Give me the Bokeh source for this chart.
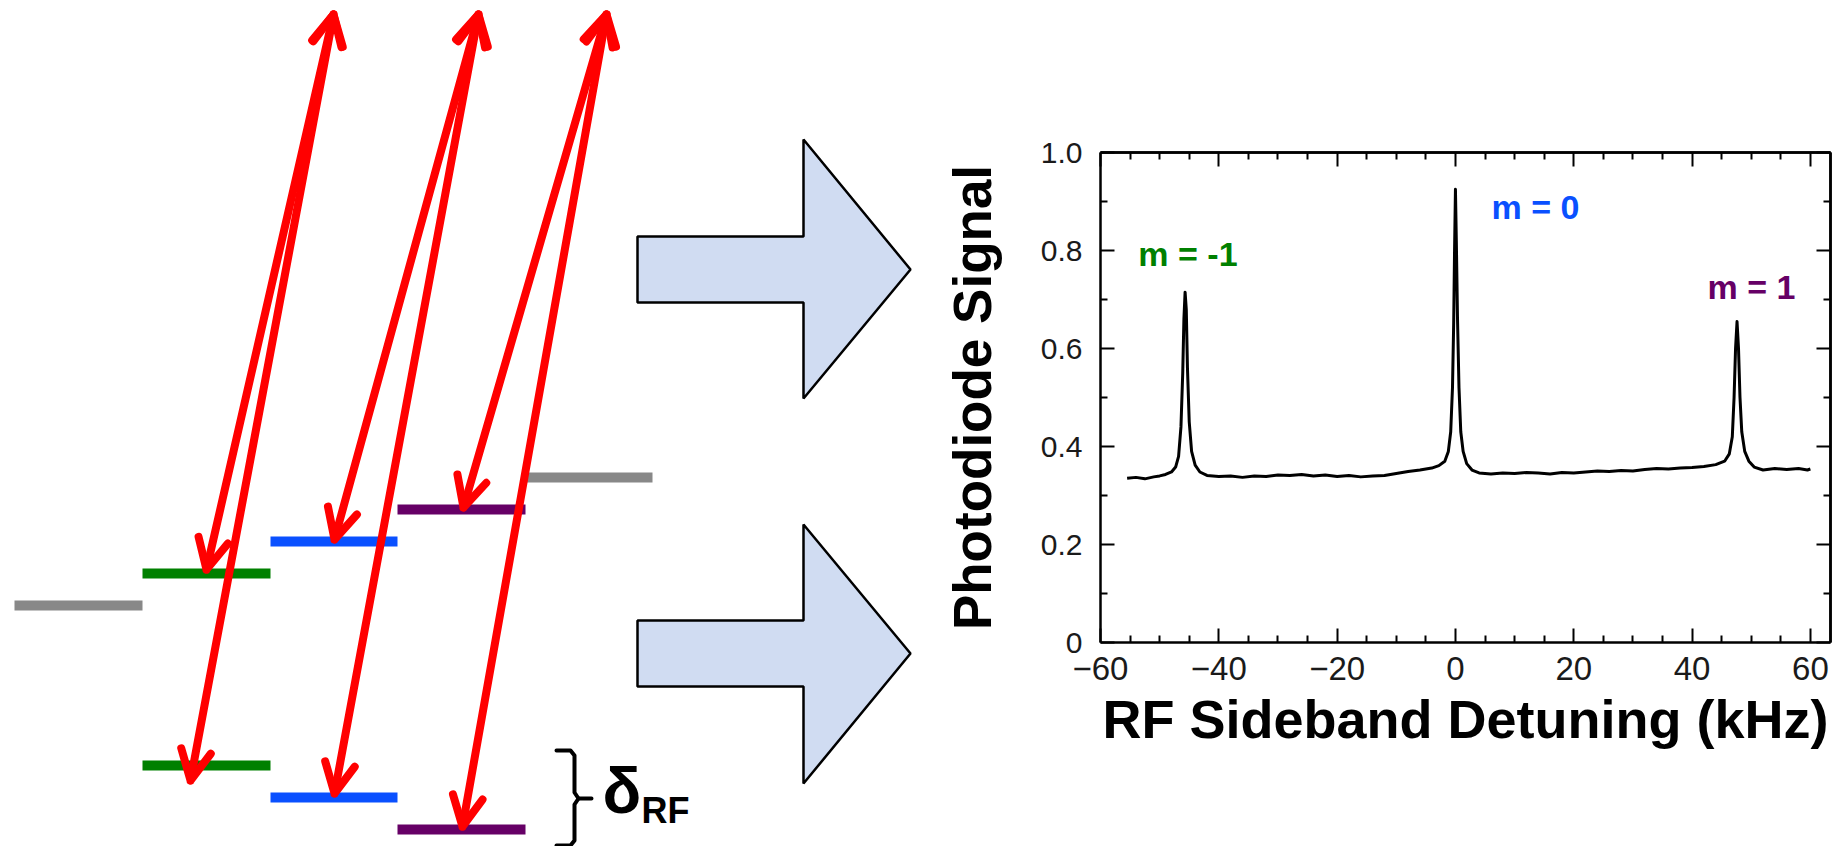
from bokeh.plotting import figure
from bokeh.models import (Range1d, ColumnDataSource, Arrow, OpenHead, LinearAxis,
                          FixedTicker)
from bokeh.core.properties import value
from bokeh.embed import file_html
from bokeh.resources import INLINE

# ---------------- schematic (level diagram) data ----------------
level_x0 = [14, 142, 142, 270, 270, 397, 397, 525]
level_x1 = [142, 270, 270, 397, 397, 525, 525, 652]
level_y = [605, 573, 765, 541, 797, 509, 829, 477]
level_color = ["#888888", "#008000", "#008000", "#0a50ff", "#0a50ff",
               "#660066", "#660066", "#888888"]

arrow_top_x = [333, 333, 478, 478, 606, 606]
arrow_top_y = [14, 14, 14, 14, 14, 14]
arrow_tip_x = [206, 190, 334, 334, 463, 462]
arrow_tip_y = [569, 780, 539, 793, 507, 826]

block_xs = [[637, 803, 803, 910, 803, 803, 637],
            [637, 803, 803, 910, 803, 803, 637]]
block_ys = [[236, 236, 139, 269, 398, 302, 302],
            [620, 620, 524, 653, 783, 686, 686]]

brace_xs = [[556, 570, 574, 574, 578, 591], [578, 574, 574, 570, 556]]
brace_ys = [[750, 750, 755, 792, 798, 798], [798, 804, 840, 845, 845]]

# ---------------- spectrum data ----------------
curve_x = [-55.5, -54, -52.5, -51, -50, -49, -48, -47.3, -46.8, -46.4, -46.1,
           -45.9, -45.7, -45.5, -45.3, -45.0, -44.6, -44.0, -43.2, -42, -40,
           -38, -36, -34, -32, -30, -28, -26, -24, -22, -20, -18, -16, -14,
           -12, -10, -8, -6, -4, -2.8, -1.8, -1.2, -0.8, -0.5, -0.3, -0.15,
           0.0, 0.15, 0.35, 0.6, 0.9, 1.3, 1.9, 2.8, 4, 6, 8, 10, 12, 14, 16,
           18, 20, 22, 24, 26, 28, 30, 32, 34, 36, 38, 40, 42, 44, 45.5, 46.3,
           46.8, 47.1, 47.35, 47.6, 47.85, 48.1, 48.4, 48.9, 49.6, 50.5, 52,
           54, 56, 58, 59.5, 60]
curve_y = [0.335, 0.337, 0.334, 0.338, 0.340, 0.343, 0.348, 0.358, 0.38, 0.44,
           0.55, 0.66, 0.715, 0.68, 0.56, 0.45, 0.39, 0.362, 0.348, 0.341,
           0.339, 0.340, 0.337, 0.340, 0.339, 0.342, 0.341, 0.343, 0.340,
           0.342, 0.339, 0.341, 0.338, 0.340, 0.341, 0.345, 0.349, 0.352,
           0.356, 0.361, 0.370, 0.39, 0.43, 0.52, 0.65, 0.80, 0.925, 0.82,
           0.66, 0.52, 0.43, 0.39, 0.365, 0.352, 0.346, 0.344, 0.346, 0.345,
           0.347, 0.346, 0.344, 0.347, 0.346, 0.348, 0.350, 0.349, 0.351,
           0.350, 0.353, 0.355, 0.354, 0.356, 0.357, 0.359, 0.363, 0.37,
           0.385, 0.42, 0.50, 0.60, 0.655, 0.60, 0.50, 0.43, 0.39, 0.37,
           0.358, 0.352, 0.355, 0.353, 0.355, 0.352, 0.354]

peak_label_text = ["m = -1", "m = 0", "m = 1"]
peak_label_x = [-53.6, 6.1, 42.6]
peak_label_y = [0.792, 0.888, 0.725]
peak_label_color = ["#008000", "#0a50ff", "#660066"]

x_ticks = [-60, -40, -20, 0, 20, 40, 60]
x_tick_labels = ["\u221260", "\u221240", "\u221220", "0", "20", "40", "60"]
x_minor = [-55, -50, -45, -35, -30, -25, -15, -10, -5, 5, 10, 15, 25, 30, 35,
           45, 50, 55]
y_ticks = [0, 0.2, 0.4, 0.6, 0.8, 1.0]
y_tick_labels = ["0", "0.2", "0.4", "0.6", "0.8", "1.0"]
y_minor = [0.1, 0.3, 0.5, 0.7, 0.9]
x_lim = (-60, 63.4)
y_lim = (0, 1.0)

FONT = "Liberation Sans"
W, H = 1832, 846

# placement of the spectrum panel on the page (pixels)
F_LEFT, F_RIGHT, F_TOP, F_BOTTOM = 1100, 1830, 152, 642
ppx = (F_RIGHT - F_LEFT) / (x_lim[1] - x_lim[0])
ppy = (F_BOTTOM - F_TOP) / (y_lim[1] - y_lim[0])
cx_range = Range1d(x_lim[0] - F_LEFT / ppx, x_lim[0] + (W - F_LEFT) / ppx)
cy_range = Range1d(y_lim[0] - (H - F_BOTTOM) / ppy, y_lim[1] + F_TOP / ppy)

p = figure(width=W, height=H, x_range=Range1d(0, W), y_range=Range1d(H, 0),
           toolbar_location=None, output_backend="svg", min_border=0,
           x_axis_location=None, y_axis_location=None)
p.grid.visible = False
p.outline_line_color = None
p.background_fill_color = "white"
p.border_fill_color = "white"
p.extra_x_ranges = {"cx": cx_range}
p.extra_y_ranges = {"cy": cy_range}

# ---------------- schematic ----------------
p.segment(x0=level_x0, y0=level_y, x1=level_x1, y1=level_y,
          line_color=level_color, line_width=10, line_cap="butt")

arrow_src = ColumnDataSource(dict(xs=arrow_top_x, ys=arrow_top_y,
                                  xe=arrow_tip_x, ye=arrow_tip_y))
p.add_layout(Arrow(
    x_start="xs", y_start="ys", x_end="xe", y_end="ye", source=arrow_src,
    start=OpenHead(size=30, line_color="#ff0000", line_width=8, line_cap="round",
                   line_join="round"),
    end=OpenHead(size=30, line_color="#ff0000", line_width=8, line_cap="round",
                 line_join="round"),
    line_color="#ff0000", line_width=8, line_cap="round"))

p.patches(xs=block_xs, ys=block_ys, fill_color="#d0dcf2",
          line_color="black", line_width=2.5)

p.multi_line(xs=brace_xs, ys=brace_ys, line_color="black", line_width=4,
             line_cap="round", line_join="round")

p.text(x=[602], y=[790], text=["\u03b4"], text_font=value(FONT),
       text_font_style="bold", text_font_size="64px", text_color="black",
       text_baseline="alphabetic", text_align="left")
p.text(x=[641], y=[810], text=["RF"], text_font=value(FONT),
       text_font_style="bold", text_font_size="36px", text_color="black",
       text_baseline="alphabetic", text_align="left")

# ---------------- spectrum axes ----------------
def style(ax, major_len=14, minor_len=7):
    ax.axis_line_color = "black"
    ax.axis_line_width = 2.5
    ax.major_tick_in = major_len
    ax.major_tick_out = 0
    ax.minor_tick_in = minor_len
    ax.minor_tick_out = 0
    ax.major_tick_line_width = 2
    ax.minor_tick_line_width = 2
    ax.major_tick_line_color = "black"
    ax.minor_tick_line_color = "black"
    ax.major_label_text_font = FONT
    ax.major_label_text_color = "#1a1a1a"
    ax.axis_label_text_font = FONT
    ax.axis_label_text_font_style = "bold"
    ax.axis_label_text_color = "black"

xa = LinearAxis(x_range_name="cx", y_range_name="cy", fixed_location=y_lim[0],
                bounds=x_lim, ticker=FixedTicker(ticks=x_ticks, minor_ticks=x_minor),
                axis_label="RF Sideband Detuning (kHz)",
                major_label_overrides={t: l for t, l in zip(x_ticks, x_tick_labels)})
style(xa)
xa.major_label_text_font_size = "33px"
xa.major_label_standoff = 14
xa.axis_label_text_font_size = "54px"
xa.axis_label_standoff = 6
p.add_layout(xa, "below")

ya = LinearAxis(x_range_name="cx", y_range_name="cy", fixed_location=x_lim[0],
                bounds=y_lim, ticker=FixedTicker(ticks=y_ticks, minor_ticks=y_minor),
                axis_label="Photodiode Signal",
                major_label_overrides={t: l for t, l in zip(y_ticks, y_tick_labels)})
style(ya)
ya.major_label_text_font_size = "30px"
ya.major_label_standoff = 18
ya.axis_label_text_font_size = "53px"
ya.axis_label_standoff = 36
p.add_layout(ya, "left")

# top and right frame edges: tick marks only (no labels)
for minors, ln in ((x_ticks, 14), (x_minor, 7)):
    ta = LinearAxis(x_range_name="cx", y_range_name="cy", fixed_location=y_lim[1],
                    bounds=x_lim, ticker=FixedTicker(ticks=[], minor_ticks=minors))
    style(ta, minor_len=ln)
    p.add_layout(ta, "above")
for minors, ln in ((y_ticks, 14), (y_minor, 7)):
    ra = LinearAxis(x_range_name="cx", y_range_name="cy", fixed_location=x_lim[1],
                    bounds=y_lim, ticker=FixedTicker(ticks=[], minor_ticks=minors))
    style(ra, minor_len=ln)
    p.add_layout(ra, "right")

# ---------------- spectrum data ----------------
p.line(curve_x, curve_y, x_range_name="cx", y_range_name="cy",
       line_color="black", line_width=3, line_join="round")

lab_src = ColumnDataSource(dict(x=peak_label_x, y=peak_label_y,
                                text=peak_label_text, color=peak_label_color))
p.text(x="x", y="y", text="text", text_color="color", source=lab_src,
       x_range_name="cx", y_range_name="cy",
       text_font=value(FONT), text_font_style="bold",
       text_font_size="34px", text_baseline="alphabetic", text_align="left")

open("out.html", "w").write(file_html(p, INLINE))
